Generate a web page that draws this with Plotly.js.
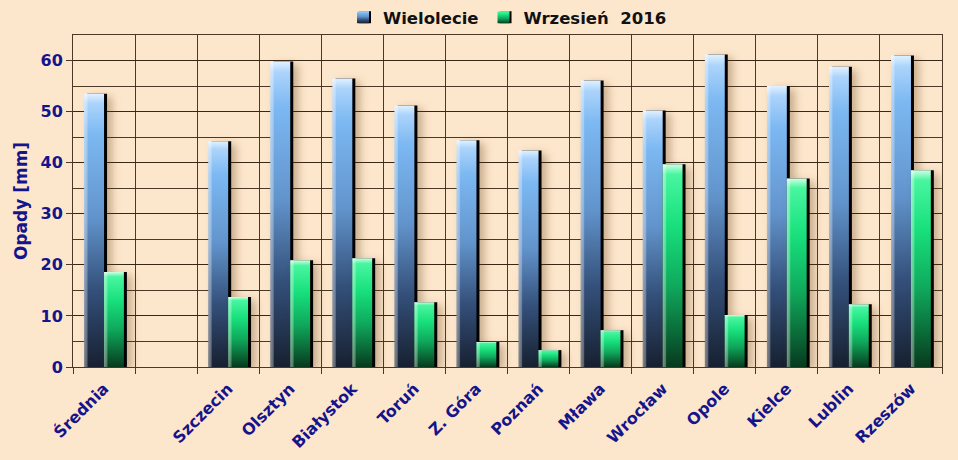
<!DOCTYPE html>
<html>
<head>
<meta charset="utf-8">
<script src="https://cdn.plot.ly/plotly-3.0.1.min.js"></script>
<style>
html,body{margin:0;padding:0;background:#fde7cc;}
#chart{width:958px;height:460px;}
</style>
</head>
<body>
<div id="chart"></div>
<script>
// ---- data ----
const categories = ['Średnia', '', 'Szczecin', 'Olsztyn', 'Białystok', 'Toruń', 'Z. Góra', 'Poznań', 'Mława', 'Wrocław', 'Opole', 'Kielce', 'Lublin', 'Rzeszów'];
const wielolecie = [53.5, null, 44.2, 59.8, 56.5, 51.2, 44.4, 42.4, 56.1, 50.2, 61.2, 55.0, 58.8, 61.0];
const wrzesien2016 = [18.6, null, 13.7, 20.9, 21.3, 12.7, 4.9, 3.3, 7.2, 39.7, 10.2, 36.9, 12.3, 38.5];
const seriesNames = ['Wielolecie', 'Wrzesień  2016'];
const yTickVals = [0, 10, 20, 30, 40, 50, 60];

const xIdx = categories.map((c, i) => i);
const labelIdx = xIdx.filter(i => categories[i] !== '');
const labelText = labelIdx.map(i => categories[i]);

const navy = '#14148c';
const grid = 'rgba(55,38,20,0.9)';
const bg = '#fde7cc';
const fam = '"DejaVu Sans", Verdana, sans-serif';

const traces = [
  {type: 'bar', name: seriesNames[0], x: xIdx, y: wielolecie, marker: {color: '#6fa6e0'}},
  {type: 'bar', name: seriesNames[1], x: xIdx, y: wrzesien2016, marker: {color: '#20e080'}}
];

const layout = {
  width: 958, height: 460,
  paper_bgcolor: bg, plot_bgcolor: bg,
  margin: {l: 73, r: 16, t: 35, b: 93},
  barmode: 'group', bargap: 0.36, bargroupgap: 0,
  font: {family: fam, size: 15, color: navy, weight: 'bold'},
  showlegend: true,
  legend: {
    orientation: 'h', x: 0.5, xanchor: 'center', yref: 'container', y: 1.0, yanchor: 'top',
    font: {family: fam, size: 16.5, color: '#111111', weight: 'bold'}, bgcolor: 'rgba(0,0,0,0)', itemwidth: 30
  },
  xaxis: {
    type: 'linear', range: [-0.5, 13.5],
    tickmode: 'array', tickvals: labelIdx, ticktext: labelText,
    tickangle: -45, ticks: '', showgrid: false, zeroline: false,
    ticklabelstandoff: 5,
    tickfont: {family: fam, size: 16, color: navy, weight: 'bold'},
    showline: true, linecolor: grid, linewidth: 1, mirror: true,
    minor: {tickmode: 'linear', tick0: -0.5, dtick: 1, showgrid: true, gridcolor: grid, gridwidth: 1, ticks: 'outside', ticklen: 6, tickcolor: grid}
  },
  yaxis: {
    range: [0, 65], tickmode: 'array', tickvals: yTickVals,
    showgrid: true, gridcolor: grid, gridwidth: 1, zeroline: false,
    ticks: 'outside', ticklen: 6, tickcolor: grid,
    tickfont: {family: fam, size: 16, color: navy, weight: 'bold'},
    showline: true, linecolor: grid, linewidth: 1, mirror: true,
    minor: {dtick: 5, showgrid: true, gridcolor: grid, gridwidth: 1},
    title: {text: 'Opady [mm]', font: {family: fam, size: 17, color: navy, weight: 'bold'}, standoff: 8}
  }
};

function addGradients(gd) {
  const svg = gd.querySelector('svg.main-svg');
  const ns = 'http://www.w3.org/2000/svg';
  let defs = svg.querySelector('defs');
  if (!defs) { defs = document.createElementNS(ns, 'defs'); svg.insertBefore(defs, svg.firstChild); }
  function grad(id, stops, horiz) {
    const g = document.createElementNS(ns, 'linearGradient');
    g.setAttribute('id', id);
    g.setAttribute('x1', '0'); g.setAttribute('y1', '0');
    g.setAttribute('x2', horiz ? '1' : '0'); g.setAttribute('y2', horiz ? '0' : '1');
    stops.forEach(s => {
      const st = document.createElementNS(ns, 'stop');
      st.setAttribute('offset', s[0]); st.setAttribute('stop-color', s[1]);
      if (s.length > 2) st.setAttribute('stop-opacity', s[2]);
      g.appendChild(st);
    });
    defs.appendChild(g);
  }
  grad('gBlue', [[0, '#e2f2ff'], [0.035, '#acd4fb'], [0.15, '#7cb8f2'], [0.45, '#6294cc'], [0.72, '#34507a'], [1, '#172030']]);
  grad('gGreen', [[0, '#d0ffe4'], [0.05, '#48f6a0'], [0.3, '#18e07c'], [0.6, '#0fa95c'], [0.85, '#0a6535'], [1, '#073a1e']]);
  grad('gShine', [[0, '#ffffff', 0.45], [0.14, '#ffffff', 0.3], [0.2, '#ffffff', 0], [1, '#ffffff', 0]], true);
  const ids = ['gBlue', 'gGreen'];
  gd.querySelectorAll('.barlayer .trace.bars').forEach((t, i) => {
    t.querySelectorAll('path').forEach(p => {
      p.style.fill = 'url(#' + ids[i] + ')';
      p.style.filter = 'drop-shadow(3px 0px 0px #000) drop-shadow(5px 3px 4px rgba(90,50,10,0.32))';
      const c = p.cloneNode(true);
      c.style.fill = 'url(#gShine)';
      c.style.filter = 'none';
      c.style.stroke = 'none';
      p.parentNode.insertBefore(c, p.nextSibling);
    });
  });
  gd.querySelectorAll('.legend .traces').forEach((t, i) => {
    t.querySelectorAll('.legendpoints path').forEach(p => {
      p.style.fill = 'url(#' + ids[i] + ')';
      p.style.filter = 'drop-shadow(2px 0px 0px #000)';
    });
  });
}

Plotly.newPlot('chart', traces, layout, {staticPlot: true, displayModeBar: false}).then(addGradients);
</script>
</body>
</html>
